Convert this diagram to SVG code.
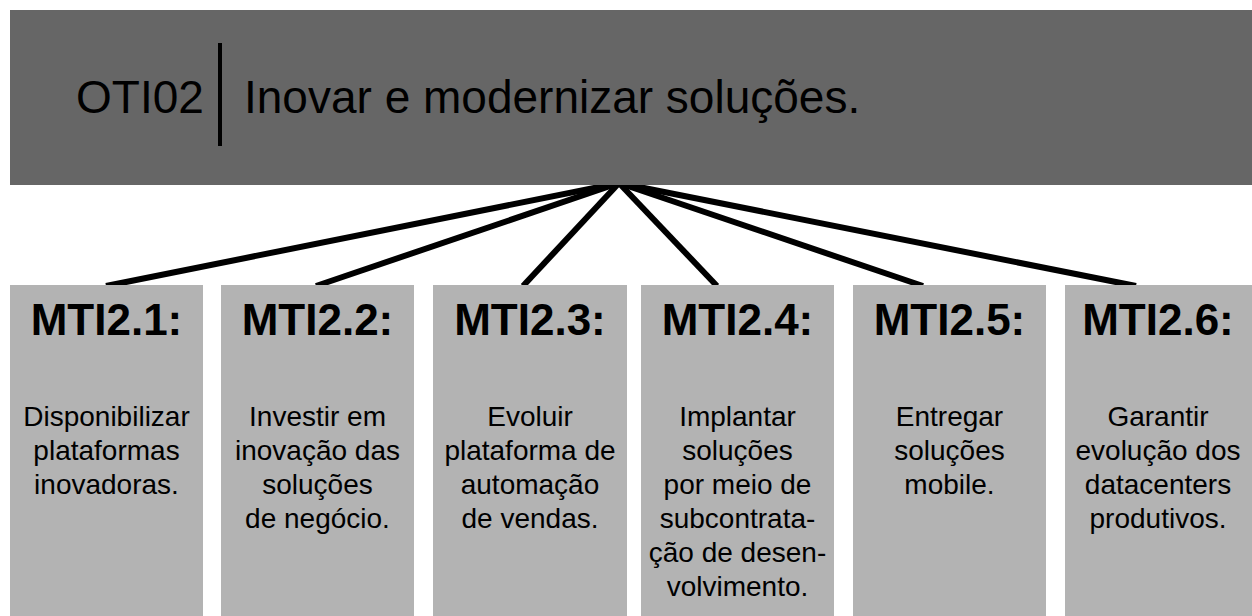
<svg xmlns="http://www.w3.org/2000/svg" width="1252" height="616" viewBox="0 0 1252 616">
<style>
.bar{fill:#666666}
.box{fill:#b3b3b3}
.conn{stroke:#000;stroke-width:6;stroke-linecap:butt;fill:none}
.title{font-family:"Liberation Sans",Arial,sans-serif;font-size:46px;fill:#000}
.head{font-family:"Liberation Sans",Arial,sans-serif;font-size:44px;font-weight:bold;fill:#000;text-anchor:middle}
.body{font-family:"Liberation Sans",Arial,sans-serif;font-size:28px;fill:#000;text-anchor:middle}
</style>
<rect width="1252" height="616" fill="#ffffff"/>
<g id="connectors">
<line class="conn" x1="619" y1="183" x2="106" y2="286"/>
<line class="conn" x1="619" y1="183" x2="316" y2="286"/>
<line class="conn" x1="619" y1="183" x2="523" y2="286"/>
<line class="conn" x1="619" y1="183" x2="717" y2="286"/>
<line class="conn" x1="619" y1="183" x2="923" y2="286"/>
<line class="conn" x1="619" y1="183" x2="1136" y2="286"/>
</g>
<g id="OTI02">
<rect class="bar" x="10" y="10" width="1242" height="175"/>
<text class="title" x="76" y="113">OTI02</text>
<rect x="218" y="43" width="4" height="103" fill="#000"/>
<text class="title" x="244" y="113">Inovar e modernizar soluções.</text>
</g>
<g id="MTI2.1">
<rect class="box" x="10" y="285" width="193" height="331"/>
<text class="head" x="106.5" y="335">MTI2.1:</text>
<text class="body" x="106.5" y="426"><tspan x="106.5">Disponibilizar</tspan><tspan x="106.5" dy="34">plataformas</tspan><tspan x="106.5" dy="34">inovadoras.</tspan></text>
</g>
<g id="MTI2.2">
<rect class="box" x="221" y="285" width="193" height="331"/>
<text class="head" x="317.5" y="335">MTI2.2:</text>
<text class="body" x="317.5" y="426"><tspan x="317.5">Investir em</tspan><tspan x="317.5" dy="34">inovação das</tspan><tspan x="317.5" dy="34">soluções</tspan><tspan x="317.5" dy="34">de negócio.</tspan></text>
</g>
<g id="MTI2.3">
<rect class="box" x="433" y="285" width="194" height="331"/>
<text class="head" x="530" y="335">MTI2.3:</text>
<text class="body" x="530" y="426"><tspan x="530">Evoluir</tspan><tspan x="530" dy="34">plataforma de</tspan><tspan x="530" dy="34">automação</tspan><tspan x="530" dy="34">de vendas.</tspan></text>
</g>
<g id="MTI2.4">
<rect class="box" x="641" y="285" width="193" height="331"/>
<text class="head" x="737.5" y="335">MTI2.4:</text>
<text class="body" x="737.5" y="426"><tspan x="737.5">Implantar</tspan><tspan x="737.5" dy="34">soluções</tspan><tspan x="737.5" dy="34">por meio de</tspan><tspan x="737.5" dy="34">subcontrata-</tspan><tspan x="737.5" dy="34">ção de desen-</tspan><tspan x="737.5" dy="34">volvimento.</tspan></text>
</g>
<g id="MTI2.5">
<rect class="box" x="853" y="285" width="193" height="331"/>
<text class="head" x="949.5" y="335">MTI2.5:</text>
<text class="body" x="949.5" y="426"><tspan x="949.5">Entregar</tspan><tspan x="949.5" dy="34">soluções</tspan><tspan x="949.5" dy="34">mobile.</tspan></text>
</g>
<g id="MTI2.6">
<rect class="box" x="1065" y="285" width="193" height="331"/>
<text class="head" x="1158" y="335">MTI2.6:</text>
<text class="body" x="1158" y="426"><tspan x="1158">Garantir</tspan><tspan x="1158" dy="34">evolução dos</tspan><tspan x="1158" dy="34">datacenters</tspan><tspan x="1158" dy="34">produtivos.</tspan></text>
</g>
</svg>
